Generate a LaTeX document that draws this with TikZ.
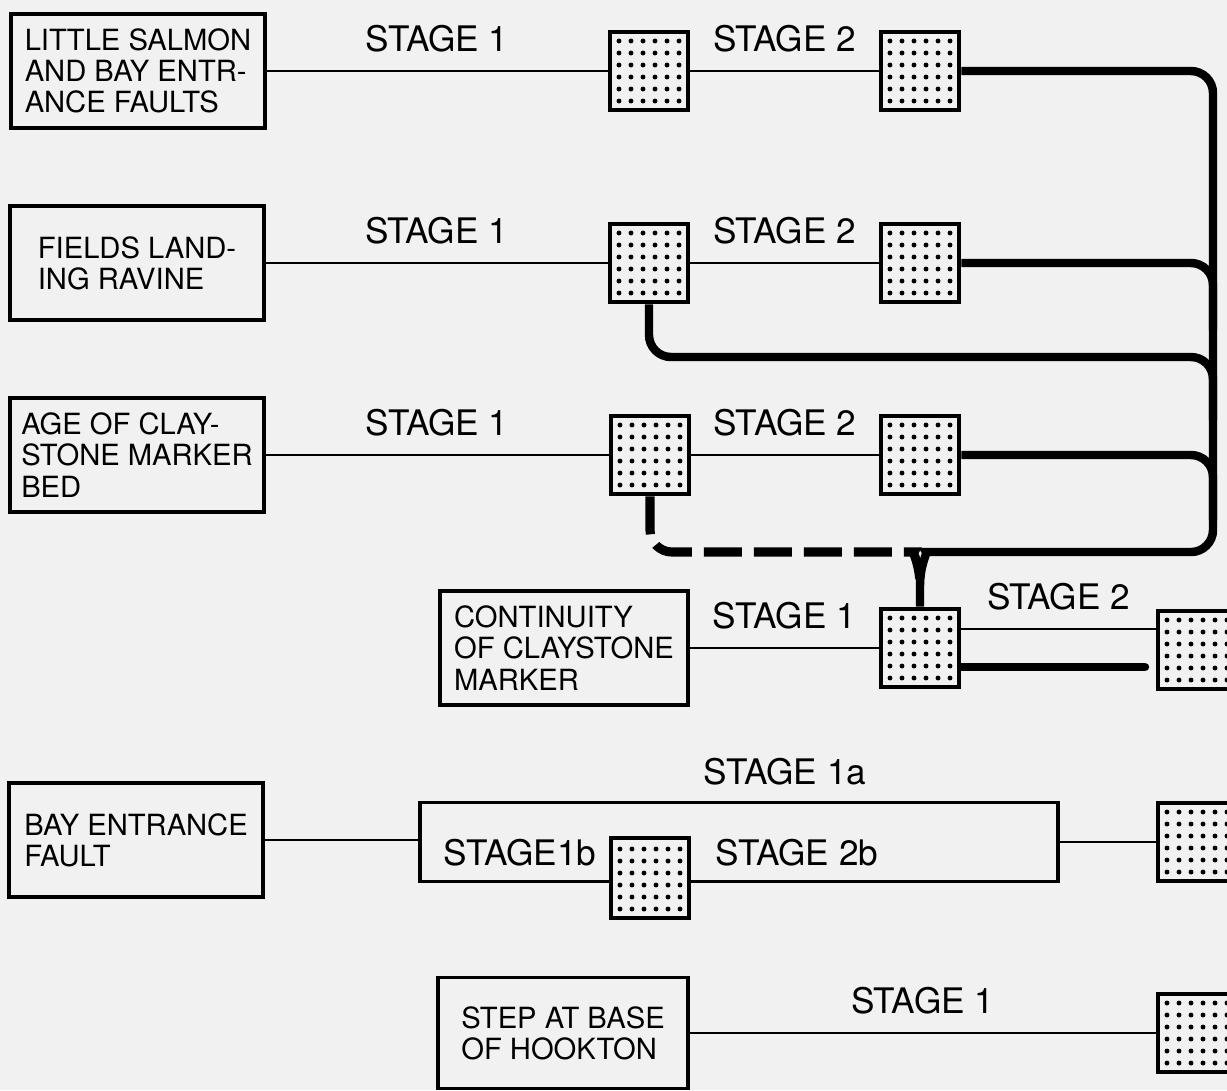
\documentclass[tikz,border=0pt]{standalone}
\usepackage{fontspec}
\setmainfont{TeX Gyre Heros}
\usetikzlibrary{positioning}
\definecolor{paper}{RGB}{241,241,241}
\tikzset{
	srcbox/.style = {draw, line width=1.1pt, fill=paper, minimum width=2.53cm, minimum height=1.14cm,
		align=left, inner sep=1pt, font=\fontsize{8.3}{8.9}\selectfont},
	stipple/.style = {draw, line width=1.3pt, fill=paper, minimum size=0.78cm, inner sep=0pt,
		path picture={\foreach \i in {0,...,5} \foreach \j in {0,...,5}
			\fill [black] ([xshift=0.09cm+\i*0.12cm, yshift=0.09cm+\j*0.12cm]path picture bounding box.south west) circle (0.7pt);}},
	conn/.style = {line width=0.8pt},
	bus/.style = {line width=2.4pt, rounded corners=0.22cm},
	stagetxt/.style = {font=\fontsize{10}{12}\selectfont},
	stagelbl/.style = {stagetxt, inner sep=0pt, above=0.17cm}
}
\begin{document}
\begin{tikzpicture}[x=0.01cm, y=-0.01cm]
	\fill [paper] (0,0) rectangle (1227,1090);
	\useasboundingbox (0,0) rectangle (1227,1090);
	\clip (0,0) rectangle (1227,1090);
	% source boxes
	\node [srcbox] (salmon) at (138,71) {LITTLE SALMON\\AND BAY ENTR-\\ANCE FAULTS};
	\node [srcbox] (fields) at (137,263) {FIELDS LAND-\\ING RAVINE};
	\node [srcbox] (clay) at (137,455) {AGE OF CLAY-\\STONE MARKER\\BED};
	\node [srcbox, minimum width=2.48cm] (cont) at (564,648) {CONTINUITY\\OF CLAYSTONE\\MARKER};
	\node [srcbox] (bay) at (136,840) {BAY ENTRANCE\\FAULT};
	\node [srcbox, minimum width=2.5cm, minimum height=1.11cm] (hookton) at (563,1033) {STEP AT BASE\\OF HOOKTON};
	% stages
	\node [stipple] (a1) at (649,71) {};
	\node [stipple] (a2) at (920,71) {};
	\node [stipple] (b1) at (649,263) {};
	\node [stipple] (b2) at (920,263) {};
	\node [stipple] (c1) at (650,455) {};
	\node [stipple] (c2) at (920,455) {};
	\node [stipple] (d1) at (920,648) {};
	\node [stipple] (d2) at (1197,650) {};
	\node [draw, line width=1.1pt, minimum width=6.38cm, minimum height=0.79cm] (lag) at (739,842) {};
	\node [stipple, minimum height=0.8cm] (e1) at (650,878) {};
	\node [stipple] (e2) at (1197,842) {};
	\node [stipple] (f2) at (1197,1033) {};
	\node [stagetxt] at (520,853) {STAGE1b};
	\node [stagetxt] at (797,853) {STAGE 2b};
	\node [stagelbl] at (785,803) {STAGE 1a};
	% connectors
	\draw [conn] (salmon.east) -- node [stagelbl] {STAGE 1} (a1.west);
	\draw [conn] (a1.east) -- node [stagelbl] {STAGE 2} (a2.west);
	\draw [conn] (fields.east) -- node [stagelbl] {STAGE 1} (b1.west);
	\draw [conn] (b1.east) -- node [stagelbl] {STAGE 2} (b2.west);
	\draw [conn] (clay.east) -- node [stagelbl] {STAGE 1} (c1.west);
	\draw [conn] (c1.east) -- node [stagelbl] {STAGE 2} (c2.west);
	\draw [conn] (cont.east) -- node [stagelbl] {STAGE 1} (d1.west);
	\draw [conn] ([yshift=0.19cm]d1.east) -- node [stagelbl] {STAGE 2} ([yshift=0.19cm]d1.east -| d2.west);
	\coordinate (dend) at (1145,667);
	\draw [line width=2.4pt, line cap=round] (d1.east |- dend) -- (dend);
	\draw [conn] (bay.east) -- (bay.east -| lag.west);
	\draw [conn] (lag.east) -- (lag.east -| e2.west);
	\draw [conn] (hookton.east) -- node [stagelbl] {STAGE 1} (f2.west);
	% thick links
	\coordinate (fork) at (920,586);
	\draw [bus] (a2.east) -| (1213,552) -- (948,552) [sharp corners] .. controls (928,552) and (920,564) .. (fork) -- (d1.north);
	\draw [bus] (b2.east) -| (1213,330);
	\draw [bus] (b1.south) |- (1213,357) -- (1213,420);
	\draw [bus] (c2.east) -| (1213,520);
	\draw [bus, line width=2.6pt, dash pattern=on 0.38cm off 0.12cm] (c1.south) |- (892,552) [sharp corners] .. controls (912,552) and (920,564) .. (fork);
\end{tikzpicture}
\end{document}
